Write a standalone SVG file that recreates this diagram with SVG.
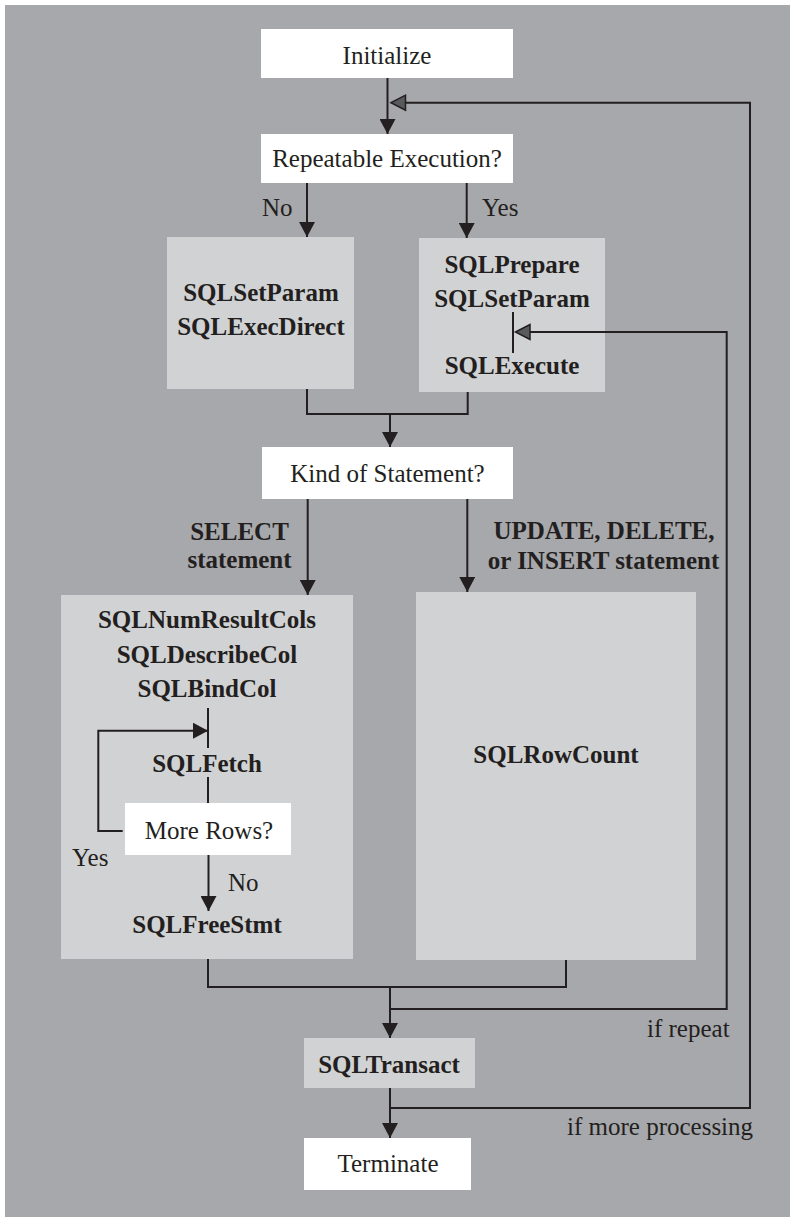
<svg xmlns="http://www.w3.org/2000/svg" width="790" height="1222" viewBox="0 0 790 1222">
<style>
  .t { font-family: "Liberation Serif", "Times New Roman", serif; font-size: 25px; fill: #231f20; }
  .b { font-weight: bold; }
  .m { text-anchor: middle; }
  .white { fill: #ffffff; }
  .light { fill: #d1d2d4; }
  .ln { fill: none; stroke: #231f20; stroke-width: 2; }
  .ghead { fill: #595a5c; stroke: #231f20; stroke-width: 1.5; stroke-linejoin: miter; }
</style>
<defs>
  <marker id="arr" markerUnits="userSpaceOnUse" markerWidth="16" markerHeight="16" viewBox="0 0 15 16" refX="15" refY="8" orient="auto">
    <path d="M0,0 L15,8 L0,16 Z" fill="#231f20"/>
  </marker>
</defs>
<rect x="5" y="5" width="785" height="1212" fill="#a7a8ab"/>

<g id="initialize"><rect class="white" x="261" y="29" width="252" height="49"/><text class="t m" x="387" y="64">Initialize</text></g>
<g id="repeatable"><rect class="white" x="261" y="134" width="252" height="49"/><text class="t m" x="387" y="167">Repeatable Execution?</text></g>
<g id="execdirect"><rect class="light" x="167" y="237" width="187" height="152"/><text class="t b m" x="261" y="301">SQLSetParam</text><text class="t b m" x="261" y="335">SQLExecDirect</text></g>
<g id="prepare"><rect class="light" x="419" y="238" width="186" height="154"/><text class="t b m" x="512" y="273">SQLPrepare</text><text class="t b m" x="512" y="307">SQLSetParam</text><text class="t b m" x="512" y="374">SQLExecute</text></g>
<g id="kind"><rect class="white" x="262" y="447" width="251" height="52"/><text class="t m" x="387.5" y="482">Kind of Statement?</text></g>
<g id="select"><rect class="light" x="61" y="595" width="292" height="364"/><text class="t b m" x="207" y="628">SQLNumResultCols</text><text class="t b m" x="207" y="663">SQLDescribeCol</text><text class="t b m" x="207" y="697">SQLBindCol</text><text class="t b m" x="207" y="772">SQLFetch</text><text class="t b m" x="207" y="933">SQLFreeStmt</text></g>
<g id="morerows"><rect class="white" x="125" y="803" width="166" height="52"/><text class="t m" x="209" y="839">More Rows?</text></g>
<g id="rowcount"><rect class="light" x="416" y="592" width="280" height="368"/><text class="t b m" x="556" y="763">SQLRowCount</text></g>
<g id="transact"><rect class="light" x="304" y="1038" width="171" height="50"/><text class="t b m" x="389" y="1073">SQLTransact</text></g>
<g id="terminate"><rect class="white" x="304" y="1138" width="167" height="52"/><text class="t m" x="388" y="1172">Terminate</text></g>

<g id="connectors">
  <path class="ln" d="M387.5,78 V134" marker-end="url(#arr)"/>
  <path class="ln" d="M390,1108 H750 V102.7 H405"/>
  <path class="ghead" d="M391,102.7 L405.5,95.2 L405.5,110.2 Z"/>
  <path class="ln" d="M307,183 V237" marker-end="url(#arr)"/>
  <path class="ln" d="M466.7,183 V238" marker-end="url(#arr)"/>
  <path class="ln" d="M307,389 V414 H467.7 V392"/>
  <path class="ln" d="M390,414 V447" marker-end="url(#arr)"/>
  <path class="ln" d="M513,312 V353"/>
  <path class="ln" d="M390,1009 H726.7 V332 H530"/>
  <path class="ghead" d="M515.5,332 L530,324.5 L530,339.5 Z"/>
  <path class="ln" d="M307.7,499 V595" marker-end="url(#arr)"/>
  <path class="ln" d="M467.3,499 V592" marker-end="url(#arr)"/>
  <path class="ln" d="M208,708 V748"/>
  <path class="ln" d="M122.7,831 H98.3 V730.7 H208" marker-end="url(#arr)"/>
  <path class="ln" d="M208,777 V803"/>
  <path class="ln" d="M208.5,855 V911" marker-end="url(#arr)"/>
  <path class="ln" d="M208,959 V987 H566 V960"/>
  <path class="ln" d="M390,987 V1038" marker-end="url(#arr)"/>
  <path class="ln" d="M390,1088 V1138" marker-end="url(#arr)"/>
</g>

<g id="labels">
  <text class="t" x="262" y="216">No</text>
  <text class="t" x="482" y="216">Yes</text>
  <text class="t b m" x="239.5" y="540">SELECT</text>
  <text class="t b m" x="239.5" y="568">statement</text>
  <text class="t b m" x="604" y="539">UPDATE, DELETE,</text>
  <text class="t b m" x="603.5" y="569">or INSERT statement</text>
  <text class="t" x="72" y="866">Yes</text>
  <text class="t" x="228" y="891">No</text>
  <text class="t" x="647" y="1037">if repeat</text>
  <text class="t" x="567" y="1135">if more processing</text>
</g>
</svg>
